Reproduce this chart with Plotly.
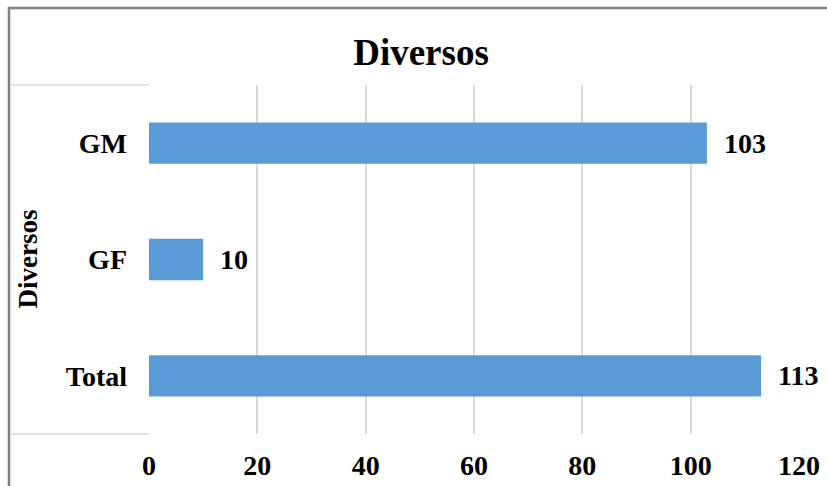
import plotly.graph_objects as go

categories = ["Total", "GF", "GM"]
values = [113, 10, 103]
x_ticks = [0, 20, 40, 60, 80, 100, 120]

FONT = "Liberation Serif, Times New Roman, serif"
W, H = 827, 486
L, R, T, B = 149, 28, 85, 52
pw = W - L - R
ph = H - T - B

def px_x(p):
    return (p - L) / pw

def px_y(p):
    return (H - B - p) / ph

fig = go.Figure()
fig.add_trace(go.Bar(
    y=categories, x=values, orientation="h",
    marker=dict(color="#5B9BD5", line=dict(width=0)),
    width=0.355,
))

for c, v in zip(categories, values):
    fig.add_annotation(x=v, y=c, xref="x", yref="y", text=f"<b>{v}</b>",
                       showarrow=False, xanchor="left", xshift=15,
                       font=dict(family=FONT, size=28, color="black"))

# y-axis title
fig.add_annotation(x=px_x(27), y=0.5, xref="paper", yref="paper",
                   text="<b>Diversos</b>", textangle=-90, showarrow=False,
                   xanchor="center", yanchor="middle",
                   font=dict(family=FONT, size=27, color="black"))

shapes = [
    dict(type="rect", xref="paper", yref="paper",
         x0=px_x(9), x1=1.5, y0=-0.6, y1=px_y(8),
         line=dict(color="#7f7f7f", width=2.5), layer="above"),
    dict(type="line", xref="paper", yref="paper",
         x0=px_x(10), x1=0, y0=1, y1=1,
         line=dict(color="#d9d9d9", width=1.5)),
    dict(type="line", xref="paper", yref="paper",
         x0=px_x(10), x1=0, y0=0, y1=0,
         line=dict(color="#d9d9d9", width=1.5)),
]

fig.update_layout(
    width=W, height=H,
    margin=dict(l=L, r=R, t=T, b=B, pad=0),
    paper_bgcolor="white", plot_bgcolor="white",
    showlegend=False,
    bargap=0.645,
    title=dict(text="<b>Diversos</b>", x=421 / W, xanchor="center",
               y=1 - 52 / H, yanchor="middle",
               font=dict(family=FONT, size=37, color="black")),
    xaxis=dict(range=[0, 120], tickvals=x_ticks, ticktext=[f"<b>{t}</b>" for t in x_ticks],
               showgrid=True, gridcolor="#d9d9d9", gridwidth=1.5,
               zeroline=False, showline=False, ticks="", automargin=False,
               ticklabelstandoff=12,
               tickfont=dict(family=FONT, size=28, color="black")),
    yaxis=dict(categoryorder="array", categoryarray=categories,
               tickvals=categories, ticktext=[f"<b>{c}</b>" for c in categories],
               showgrid=False, zeroline=False, showline=False, ticks="", automargin=False,
               ticklabelstandoff=21,
               tickfont=dict(family=FONT, size=28, color="black")),
    shapes=shapes,
)

fig.write_html("out.html")
